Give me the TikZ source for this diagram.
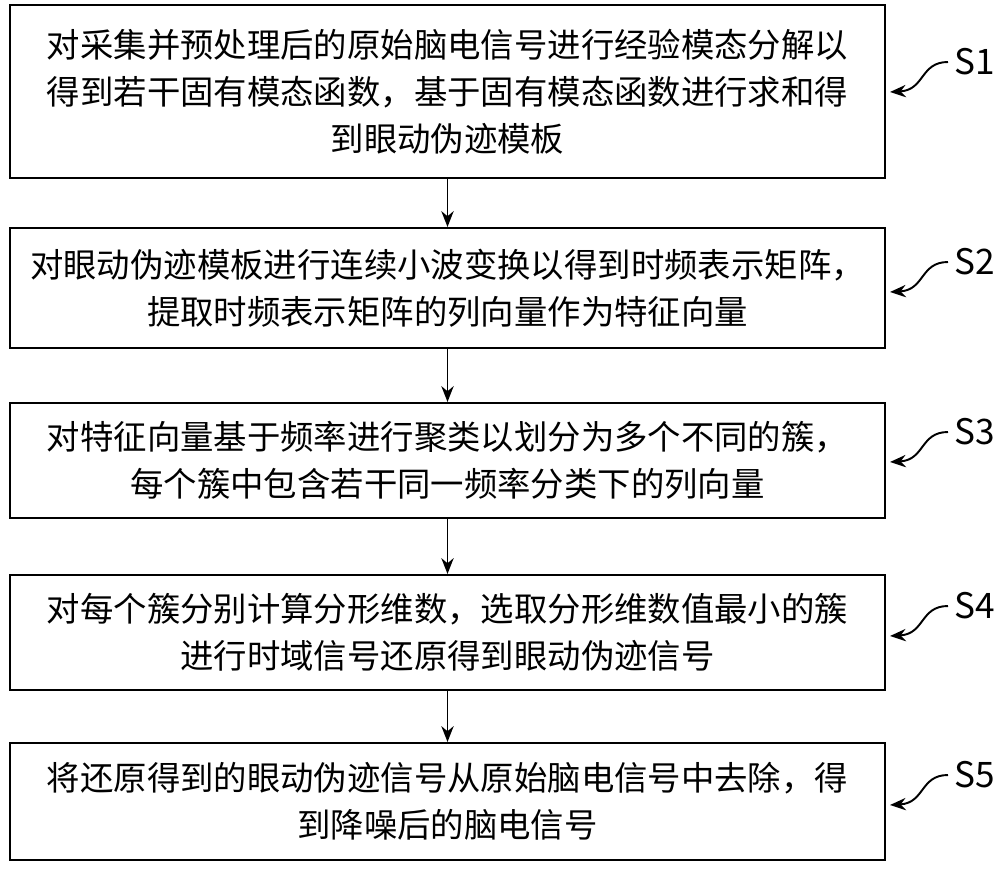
\documentclass[tikz,border=0pt]{standalone}
\usepackage{fontspec}
\setmainfont{Noto Sans CJK SC}
\usetikzlibrary{arrows.meta}
\begin{document}
\begin{tikzpicture}[x=0.02cm, y=-0.02cm, thick]
   \useasboundingbox (0,0) rectangle (1000,880);
   \tikzset{stepbox/.style={draw, line width=1.2pt, minimum width=17.5cm, align=center,
      font=\fontsize{19}{26.7}\selectfont, inner sep=0pt},
      flow/.style={-{Stealth[length=9pt,width=7pt]}, line width=1.1pt},
      tag/.style={font=\fontsize{20}{24}\selectfont}}
   \begin{scope}[every node/.style={stepbox}]
    \node[minimum height=3.46cm] (b1) at (447.5,91.5) {对采集并预处理后的原始脑电信号进行经验模态分解以\\得到若干固有模态函数，基于固有模态函数进行求和得\\到眼动伪迹模板};
    \node[minimum height=2.4cm] (b2) at (447.5,288) {对眼动伪迹模板进行连续小波变换以得到时频表示矩阵，\\提取时频表示矩阵的列向量作为特征向量};
    \node[minimum height=2.3cm] (b3) at (447.5,460.5) {对特征向量基于频率进行聚类以划分为多个不同的簇，\\每个簇中包含若干同一频率分类下的列向量};
    \node[minimum height=2.3cm] (b4) at (447.5,632.5) {对每个簇分别计算分形维数，选取分形维数值最小的簇\\进行时域信号还原得到眼动伪迹信号};
    \node[minimum height=2.34cm] (b5) at (447.5,801.5) {将还原得到的眼动伪迹信号从原始脑电信号中去除，得\\到降噪后的脑电信号};
   \end{scope}
   \draw[flow] (b1) -- (b2);
   \draw[flow] (b2) -- (b3);
   \draw[flow] (b3) -- (b4);
   \draw[flow] (b4) -- (b5);
   % step tags
   \foreach \s/\y in {1/62, 2/262, 3/432, 4/606, 5/775} {
    \node[tag, anchor=west] (s\s) at (948,\y) {S\s};
    \draw[flow] (s\s.west) .. controls (920,\y) and (925,\y+28) .. (890,\y+30);
   }
\end{tikzpicture}
\end{document}
